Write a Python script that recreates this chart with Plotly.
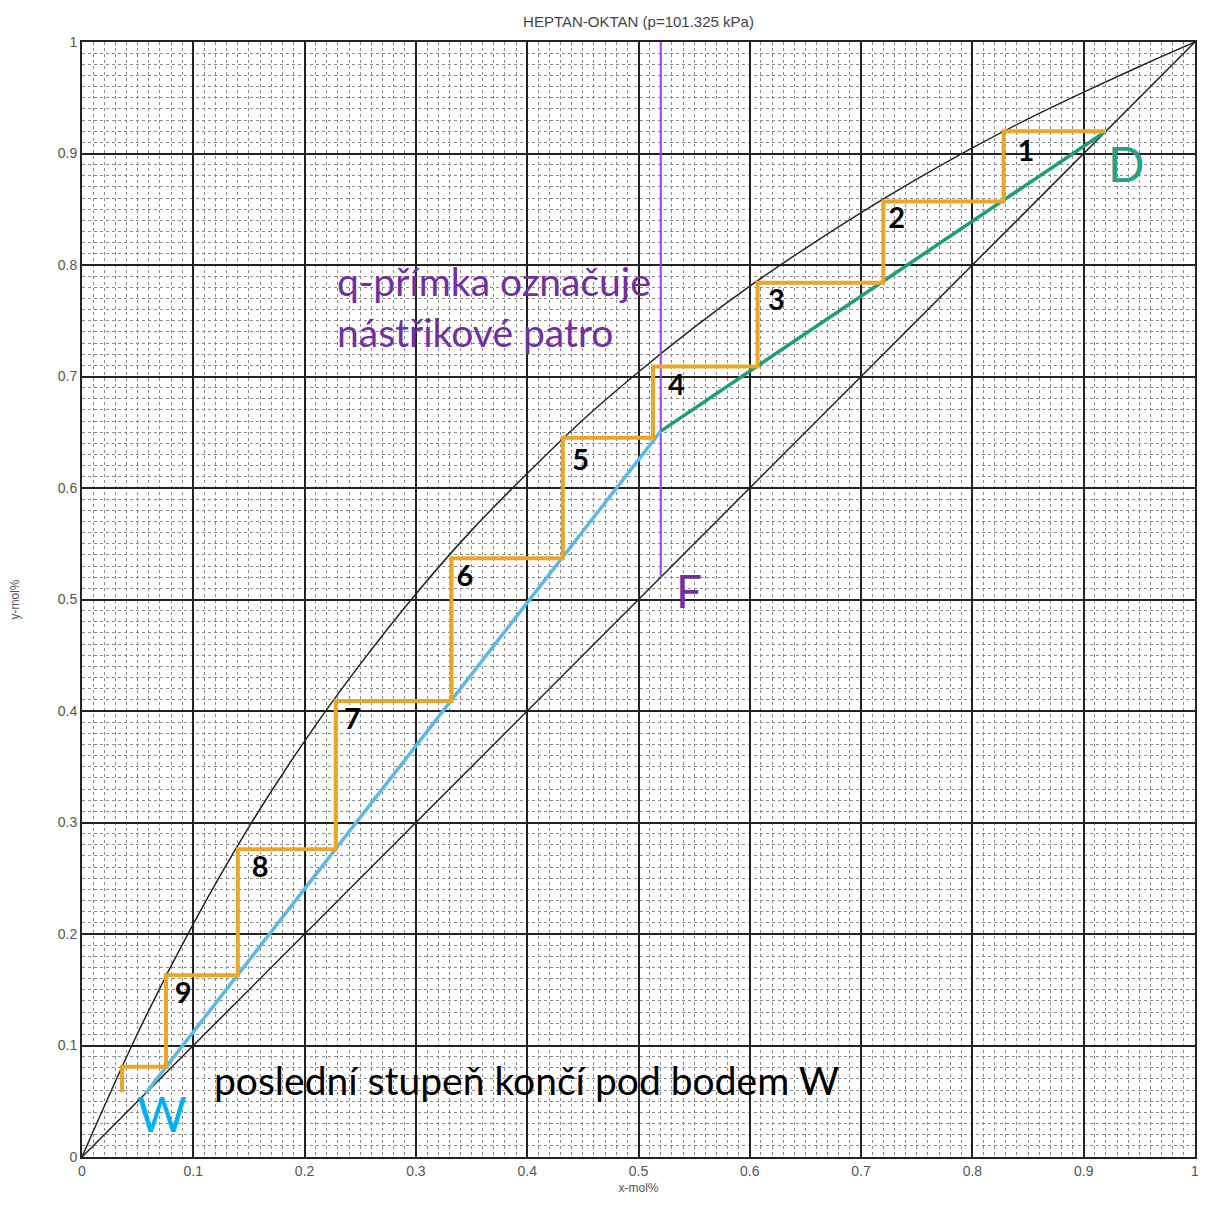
import plotly.graph_objects as go

# Equilibrium curve (heptane-octane)
eq_x = [0, 0.05, 0.1, 0.15, 0.2, 0.25, 0.3, 0.35, 0.4, 0.45, 0.5, 0.55, 0.6, 0.65, 0.7, 0.75, 0.8, 0.85, 0.9, 0.95, 1.0]
eq_y = [0, 0.111, 0.209, 0.296, 0.373, 0.442, 0.505, 0.562, 0.613, 0.661, 0.704, 0.744, 0.781, 0.815, 0.847, 0.877, 0.905, 0.931, 0.955, 0.978, 1.0]

diag = [0, 1]

# Compositions
x_D = 0.92
x_F = 0.52
x_W = 0.057
y_int = 0.651  # intersection of operating lines on q-line

# Operating lines
rect_x = [x_D, x_F]
rect_y = [x_D, y_int]
strip_x = [x_F, x_W]
strip_y = [y_int, x_W]

# q-line
q_x = [x_F, x_F]
q_y = [x_F, 1.0]

# Stages: vapour levels (horizontal) and liquid compositions (on equilibrium curve)
stage_y = [0.920, 0.857, 0.784, 0.709, 0.645, 0.537, 0.409, 0.276, 0.163, 0.081]
stage_x = [0.828, 0.720, 0.607, 0.513, 0.432, 0.332, 0.228, 0.140, 0.0755, 0.036]
last_y_end = 0.058
stage_labels = ["1", "2", "3", "4", "5", "6", "7", "8", "9"]
label_x = [0.848, 0.732, 0.624, 0.534, 0.448, 0.344, 0.243, 0.160, 0.091]
label_y = [0.900, 0.840, 0.766, 0.690, 0.623, 0.519, 0.390, 0.258, 0.145]

# Build staircase path
sx = [x_D]
sy = [stage_y[0]]
for i in range(len(stage_x)):
    sx.append(stage_x[i])
    sy.append(stage_y[i])
    sx.append(stage_x[i])
    sy.append(stage_y[i + 1] if i + 1 < len(stage_y) else last_y_end)

fig = go.Figure()
fig.add_trace(go.Scatter(x=diag, y=diag, mode="lines", line=dict(color="#222222", width=1.5), hoverinfo="skip"))
fig.add_trace(go.Scatter(x=eq_x, y=eq_y, mode="lines", line=dict(color="#222222", width=1.5, shape="spline"), hoverinfo="skip"))
fig.add_trace(go.Scatter(x=q_x, y=q_y, mode="lines", line=dict(color="#A63CE0", width=2), hoverinfo="skip"))
fig.add_trace(go.Scatter(x=rect_x, y=rect_y, mode="lines", line=dict(color="#1E9E74", width=3.5), hoverinfo="skip"))
fig.add_trace(go.Scatter(x=strip_x, y=strip_y, mode="lines", line=dict(color="#5DB8E6", width=3.5), hoverinfo="skip"))
fig.add_trace(go.Scatter(x=sx, y=sy, mode="lines", line=dict(color="#E9A628", width=4), hoverinfo="skip"))
fig.add_trace(go.Scatter(x=label_x, y=label_y, mode="text", text=stage_labels,
                         textfont=dict(family="Lato", size=29, color="black", weight="bold"),
                         textposition="middle center", hoverinfo="skip"))

ann_font = "Lato"
fig.add_annotation(x=0.227, y=0.763, xref="x", yref="y", text="q-přímka označuje<br>nástřikové patro",
                   showarrow=False, xanchor="left", yanchor="middle", align="left",
                   font=dict(family=ann_font, size=39, color="#7030A0"))
fig.add_annotation(x=0.532, y=0.508, xref="x", yref="y", text="F", showarrow=False,
                   xanchor="left", yanchor="middle", font=dict(family=ann_font, size=46, color="#7030A0"))
fig.add_annotation(x=0.92, y=0.891, xref="x", yref="y", text="D", showarrow=False,
                   xanchor="left", yanchor="middle", font=dict(family=ann_font, size=48, color="#27A085"))
fig.add_annotation(x=0.048, y=0.039, xref="x", yref="y", text="W", showarrow=False,
                   xanchor="left", yanchor="middle", font=dict(family=ann_font, size=48, color="#00B0F0"))
fig.add_annotation(x=0.117, y=0.069, xref="x", yref="y", text="poslední stupeň končí pod bodem W", showarrow=False,
                   xanchor="left", yanchor="middle", font=dict(family=ann_font, size=39, color="black"))

axis_common = dict(
    range=[0, 1], dtick=0.1, showgrid=True, gridcolor="#222222", gridwidth=1.5,
    minor=dict(dtick=0.01, showgrid=True, gridcolor="#8a8a8a", gridwidth=1, griddash="dot"),
    showline=True, linecolor="#222222", linewidth=2, mirror=True, zeroline=False,
    tickfont=dict(family="Liberation Sans", size=14, color="#555555"), ticks="",
    automargin=False,
)

fig.update_layout(
    width=1198, height=1197,
    margin=dict(l=74, r=11, t=34, b=48),
    paper_bgcolor="white", plot_bgcolor="white",
    showlegend=False,
    title=dict(text="HEPTAN-OKTAN (p=101.325 kPa)", x=0.5, xref="paper", xanchor="center",
               y=0.993, yref="container", font=dict(family="Liberation Sans", size=15, color="#444444")),
    xaxis=dict(**axis_common, title=dict(text="x-mol%", font=dict(family="Liberation Sans", size=12, color="#555555"), standoff=6)),
    yaxis=dict(**axis_common, title=dict(text="y-mol%", font=dict(family="Liberation Sans", size=12, color="#555555"), standoff=36)),
)

fig.write_html("out.html")
